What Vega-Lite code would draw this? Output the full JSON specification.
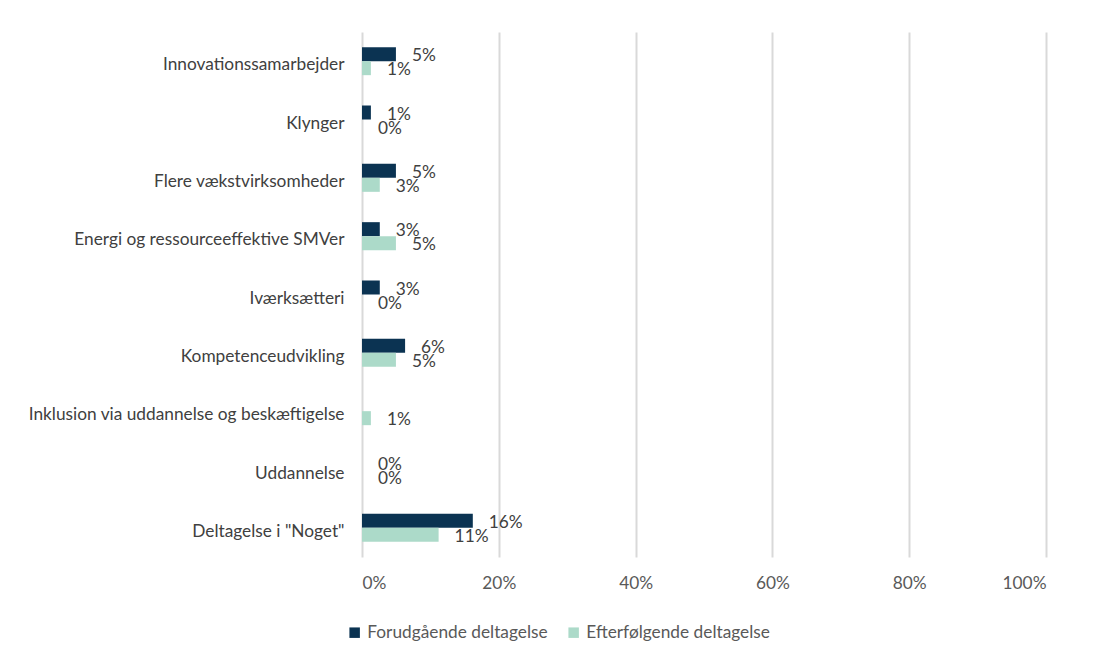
{
  "$schema": "https://vega.github.io/schema/vega-lite/v6.json",
  "autosize": "none",
  "width": 684,
  "height": 525,
  "padding": {"left": 362, "top": 32, "right": 55, "bottom": 102},
  "background": "white",
  "config": {
    "font": "Lato",
    "view": {"stroke": null},
    "text": {"font": "Lato"}
  },
  "data": {
    "values": [
      {"kategori": "Innovationssamarbejder", "serie": "Forudgående deltagelse", "v": 0.0496},
      {"kategori": "Innovationssamarbejder", "serie": "Efterfølgende deltagelse", "v": 0.013},
      {"kategori": "Klynger", "serie": "Forudgående deltagelse", "v": 0.013},
      {"kategori": "Klynger", "serie": "Efterfølgende deltagelse", "v": 0},
      {"kategori": "Flere vækstvirksomheder", "serie": "Forudgående deltagelse", "v": 0.0496},
      {"kategori": "Flere vækstvirksomheder", "serie": "Efterfølgende deltagelse", "v": 0.026},
      {"kategori": "Energi og ressourceeffektive SMVer", "serie": "Forudgående deltagelse", "v": 0.026},
      {"kategori": "Energi og ressourceeffektive SMVer", "serie": "Efterfølgende deltagelse", "v": 0.0496},
      {"kategori": "Iværksætteri", "serie": "Forudgående deltagelse", "v": 0.026},
      {"kategori": "Iværksætteri", "serie": "Efterfølgende deltagelse", "v": 0},
      {"kategori": "Kompetenceudvikling", "serie": "Forudgående deltagelse", "v": 0.063},
      {"kategori": "Kompetenceudvikling", "serie": "Efterfølgende deltagelse", "v": 0.0496},
      {"kategori": "Inklusion via uddannelse og beskæftigelse", "serie": "Efterfølgende deltagelse", "v": 0.013},
      {"kategori": "Uddannelse", "serie": "Forudgående deltagelse", "v": 0},
      {"kategori": "Uddannelse", "serie": "Efterfølgende deltagelse", "v": 0},
      {"kategori": "Deltagelse i \"Noget\"", "serie": "Forudgående deltagelse", "v": 0.162},
      {"kategori": "Deltagelse i \"Noget\"", "serie": "Efterfølgende deltagelse", "v": 0.112}
    ]
  },
  "encoding": {
    "y": {
      "field": "kategori",
      "type": "nominal",
      "sort": ["Innovationssamarbejder", "Klynger", "Flere vækstvirksomheder", "Energi og ressourceeffektive SMVer", "Iværksætteri", "Kompetenceudvikling", "Inklusion via uddannelse og beskæftigelse", "Uddannelse", "Deltagelse i \"Noget\""],
      "scale": {"paddingInner": 0.52, "paddingOuter": 0.26},
      "axis": {
        "title": null,
        "ticks": false,
        "domain": false,
        "labelFontSize": 17.3,
        "labelColor": "#404040",
        "labelPadding": 18,
        "labelOffset": 4,
        "labelLimit": 400
      }
    },
    "yOffset": {
      "field": "serie",
      "type": "nominal",
      "sort": ["Forudgående deltagelse", "Efterfølgende deltagelse"],
      "scale": {"domain": ["Forudgående deltagelse", "Efterfølgende deltagelse"]}
    },
    "x": {
      "field": "v",
      "type": "quantitative",
      "scale": {"domain": [0, 1], "nice": false},
      "axis": {
        "title": null,
        "format": ".0%",
        "values": [0, 0.2, 0.4, 0.6, 0.8, 1],
        "ticks": false,
        "domain": false,
        "grid": true,
        "gridColor": "#d9d9d9",
        "gridWidth": 2,
        "labelFontSize": 17.3,
        "labelColor": "#595959",
        "labelPadding": 17
      }
    }
  },
  "layer": [
    {
      "mark": {"type": "bar"},
      "encoding": {
        "color": {
          "field": "serie",
          "type": "nominal",
          "sort": ["Forudgående deltagelse", "Efterfølgende deltagelse"],
          "scale": {
            "domain": ["Forudgående deltagelse", "Efterfølgende deltagelse"],
            "range": ["#0b3352", "#acdac9"]
          },
          "legend": {
            "title": null,
            "orient": "none",
            "direction": "horizontal",
            "legendX": -16,
            "legendY": 592,
            "symbolType": "square",
            "symbolSize": 110,
            "symbolOpacity": 1,
            "labelFontSize": 17.3,
            "labelColor": "#595959",
            "labelLimit": 400,
            "columnPadding": 17,
            "labelOffset": 4
          }
        }
      }
    },
    {
      "mark": {"type": "text", "align": "left", "dx": 16, "dy": 2, "fontSize": 17.3, "color": "#404040"},
      "encoding": {
        "text": {"field": "v", "type": "quantitative", "format": ".0%"}
      }
    }
  ]
}
